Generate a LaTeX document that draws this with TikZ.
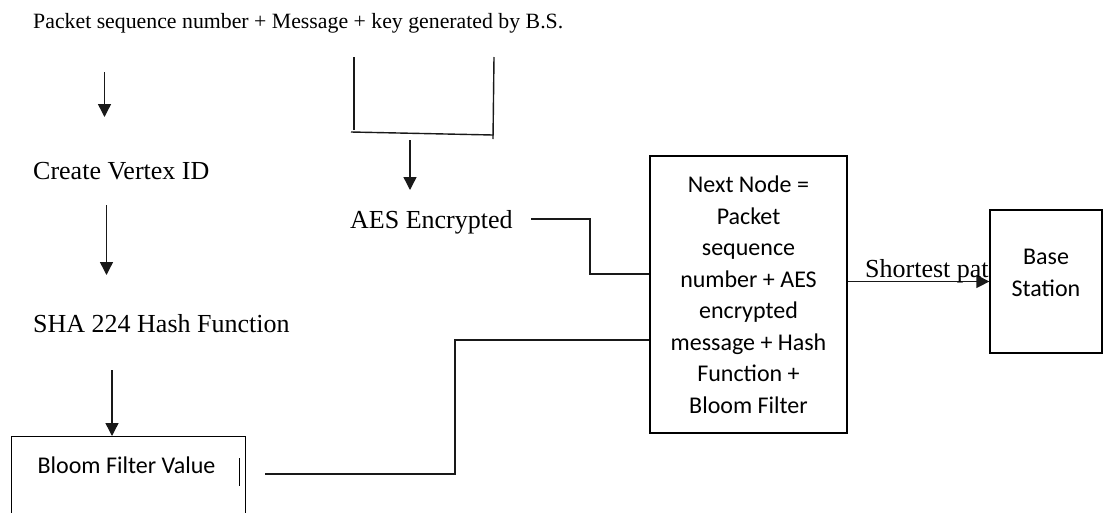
\documentclass[tikz,border=0pt]{standalone}
\usepackage{fontspec}
\setmainfont{Liberation Serif}
\newfontfamily\calibri{Carlito}
\usetikzlibrary{arrows.meta}

\begin{document}
\begin{tikzpicture}[x=1pt,y=-1pt,
  line/.style={line width=1.4pt, draw=black!90},
  arr/.style={line, -{Triangle[length=13pt,width=13pt]}},
  serif/.style={font=\fontsize{26}{30}\selectfont, inner sep=0pt, anchor=base west},
  box/.style={draw, line width=1.3pt, inner sep=0pt},
  cal/.style={font=\calibri\fontsize{24}{31.5}\selectfont, align=center, inner sep=0pt}
]
\useasboundingbox (0,0) rectangle (1103,512);
\clip (0,0) rectangle (1103,512);

% text steps on the left
\node[serif, font=\fontsize{21.8}{26}\selectfont] (pkt) at (33,28)
  {Packet sequence number + Message + key generated by B.S.};
\node[serif] (cvid) at (33,179) {Create Vertex ID};
\node[serif] (sha) at (33,332) {SHA 224 Hash Function};
\node[serif] (aes) at (350,228) {AES Encrypted};

% bloom filter box (runs off the bottom edge)
\node[box, minimum width=234pt, minimum height=80pt, anchor=north west] (bloom) at (11,436) {};
\node[cal, anchor=base] (bloomtxt) at (126.5,473) {Bloom Filter Value};
\draw[line width=1pt] (239,458) -- (239,486);

% next node box
\node[box, cal, minimum width=197pt, minimum height=277pt] (next) at (748.5,294.5)
  {Next Node =\\Packet\\sequence\\number + AES\\encrypted\\message + Hash\\Function +\\Bloom Filter};

% base station box
\node[box, minimum width=112pt, minimum height=143pt] (bs) at (1046,281.5) {};
\node[cal] (bstext) at (1046,273) {Base\\Station};

% shortest path arrow
\draw[arr] (next.east |- bs.west) -- (bs.west);
\node[serif] (sp) at (865,277) {Shortest pat};

% bracket under message + key
\draw[line] (354,57) -- (354,130);
\draw[line] (351,132) -- (493,135);
\draw[line] (494,57) -- (493,139);
\draw[arr] (410,140) -- (410,190);

% left column arrows
\draw[arr] (104.5,72) -- (104.5,117);
\draw[arr] (106.5,205) -- (106.5,275);
\draw[arr] (112,370) -- (bloom.north -| 112,0);

% connectors into the next node box
\coordinate (aesout) at (531,219);
\draw[line] (aesout) -- (590,219) -- (590,274) -- (next.west |- 0,274);
\coordinate (bloomout) at (265,474);
\draw[line] (bloomout) -- (455,474) -- (455,340) -- (next.west |- 0,340);
\end{tikzpicture}
\end{document}
